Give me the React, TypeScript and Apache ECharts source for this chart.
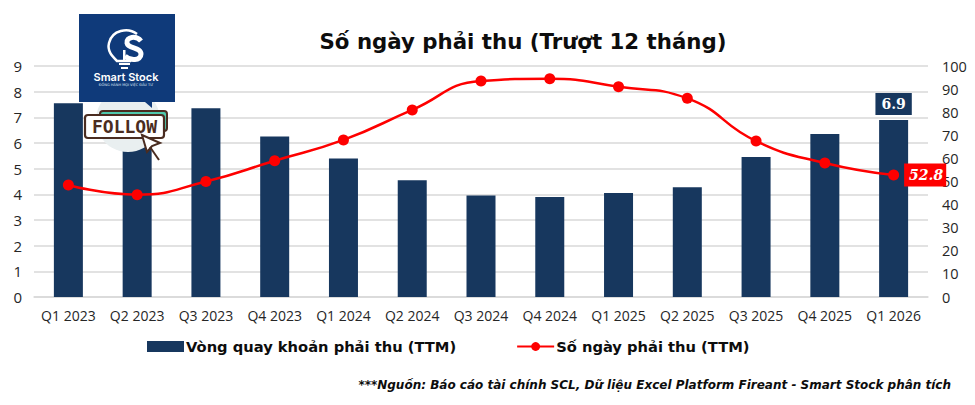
import React, { useEffect, useRef } from "react";
import * as echarts from "echarts";

const categories = ["Q1 2023","Q2 2023","Q3 2023","Q4 2023","Q1 2024","Q2 2024","Q3 2024","Q4 2024","Q1 2025","Q2 2025","Q3 2025","Q4 2025","Q1 2026"];
const turnover = [7.55,6.0,7.35,6.25,5.4,4.55,3.95,3.9,4.05,4.28,5.45,6.35,6.9];
const days = [48.5,44.3,50,59,68,81,93.5,94.5,91,86,67.5,58,52.8];
const titleText = "Số ngày phải thu (Trượt 12 tháng)";
const sourceText = "***Nguồn: Báo cáo tài chính SCL, Dữ liệu Excel Platform Fireant - Smart Stock phân tích";
const NAVY = "#17375e";
const RED = "#fe0000";
const TICK = "#262626";
const TICKFONT = "Open Sans";
const BROWN = "#4a2c20";

echarts.graphic.registerShape("bulbRing", echarts.graphic.extendPath("M 137 34 C 128 27 112 30 109 43 C 107 51 112 56 117 61 L 131 61", {}));
echarts.graphic.registerShape("bulbS", echarts.graphic.extendPath("M 141 41 C 136 35 126 37 127 43 C 128 49 141 47 141 54 C 141 61 130 61 125 56", {}));

export default function App() {
  const ref = useRef<HTMLDivElement>(null);
  useEffect(() => {
    const chart = echarts.init(ref.current!, undefined, { renderer: "svg" });
    chart.setOption({
      animation: false,
      backgroundColor: "#ffffff",
      title: {
        text: titleText, left: 518, top: 26, textAlign: "center",
        textStyle: { fontFamily: "DejaVu Sans", fontSize: 21.3, fontWeight: "bold", color: "#0d0d0d" },
      },
      legend: {
        left: 142, top: 334, itemGap: 60, itemWidth: 37, itemHeight: 11,
        textStyle: { fontFamily: "DejaVu Sans", fontSize: 14.7, fontWeight: "bold", color: "#0d0d0d", padding: [0, 0, 0, -3] },
        data: [
          { name: "Vòng quay khoản phải thu (TTM)", icon: "rect" },
          { name: "Số ngày phải thu (TTM)" },
        ],
      },
      grid: { left: 34, right: 47, top: 66, bottom: 108 },
      xAxis: {
        type: "category", data: categories,
        axisTick: { show: false },
        axisLine: { lineStyle: { color: "#d9d9d9", width: 1.5 } },
        axisLabel: { fontFamily: TICKFONT, fontSize: 14, color: TICK, margin: 11, interval: 0 },
      },
      yAxis: [
        {
          type: "value", min: 0, max: 9, interval: 1,
          axisLine: { show: false }, axisTick: { show: false },
          splitLine: { lineStyle: { color: "#d9d9d9", width: 1.5 } },
          axisLabel: { fontFamily: TICKFONT, fontSize: 15, color: TICK, margin: 12 },
        },
        {
          type: "value", min: 0, max: 100, interval: 10,
          axisLine: { show: false }, axisTick: { show: false },
          splitLine: { show: false },
          axisLabel: { fontFamily: TICKFONT, fontSize: 14.5, color: TICK, margin: 14 },
        },
      ],
      series: [
        {
          name: "Vòng quay khoản phải thu (TTM)", type: "bar", yAxisIndex: 0,
          barWidth: 29, itemStyle: { color: NAVY },
          data: turnover.map((v, i) => i === turnover.length - 1 ? {
            value: v,
            label: {
              show: true, position: "top", distance: 5, formatter: (p: any) => p.value.toFixed(1),
              backgroundColor: NAVY, color: "#fff", fontFamily: "DejaVu Serif", fontWeight: "bold",
              fontSize: 14, padding: [4, 6, 4, 6],
            },
          } : v),
        },
        {
          name: "Số ngày phải thu (TTM)", type: "line", yAxisIndex: 1, smooth: 0.5,
          symbol: "circle", symbolSize: 11,
          itemStyle: { color: RED }, lineStyle: { color: RED, width: 2.5 },
          data: days.map((v, i) => i === days.length - 1 ? {
            value: v,
            label: {
              show: true, position: "right", distance: 5, formatter: (p: any) => p.value.toFixed(1),
              backgroundColor: RED, color: "#fff", fontFamily: "DejaVu Serif", fontWeight: "bold",
              fontStyle: "italic", fontSize: 14, padding: [5, 3, 4, 5],
            },
          } : v),
        },
      ],
      graphic: [
        { type: "text", right: 24, top: 379, z: 10, style: { text: sourceText, fill: "#0d0d0d", font: "italic bold 12px 'DejaVu Sans'" } },
        { type: "circle", z: 20, shape: { cx: 128, cy: 120, r: 32 }, style: { fill: "#e9eff0" } },
        { type: "rect", z: 21, shape: { x: 79, y: 14, width: 96, height: 88 }, style: { fill: "#0f3a7a" } },
        { type: "polygon", z: 21, shape: { points: [[145, 102], [152, 102], [152, 108]] }, style: { fill: "#0f3a7a" } },
        // Bulb logo
        { type: "bulbRing", z: 22, style: { stroke: "#fff", lineWidth: 2.5, fill: null } },
        { type: "bulbS", z: 23, style: { stroke: "#fff", lineWidth: 5, fill: null } },
        { type: "rect", z: 22, shape: { x: 123, y: 50, width: 2.5, height: 11 }, style: { fill: "#fff" } },
        { type: "rect", z: 22, shape: { x: 119, y: 63, width: 11, height: 2 }, style: { fill: "#fff" } },
        { type: "rect", z: 22, shape: { x: 121, y: 67, width: 7, height: 2 }, style: { fill: "#fff" } },
        { type: "text", z: 22, x: 126, y: 77, style: { text: "Smart Stock", fill: "#fff", align: "center", verticalAlign: "middle", font: "600 11px Inter" } },
        { type: "text", z: 22, x: 126, y: 85, style: { text: "ĐỒNG HÀNH MỌI VIỆC ĐẦU TƯ", fill: "#dfe8f5", align: "center", verticalAlign: "middle", font: "3.5px 'DejaVu Sans'" } },
        // Follow button
        { type: "rect", z: 24, shape: { x: 100, y: 111, width: 67, height: 20, r: 3 }, style: { fill: "#4fc9ad", stroke: BROWN, lineWidth: 2 } },
        { type: "rect", z: 25, shape: { x: 85, y: 115, width: 79, height: 23, r: 3 }, style: { fill: "#fff", stroke: BROWN, lineWidth: 2.2 } },
        { type: "text", z: 26, x: 124.5, y: 126.5, style: { text: "FOLLOW", fill: BROWN, align: "center", verticalAlign: "middle", font: "bold 18px 'DejaVu Sans Mono'" } },
        { type: "polygon", z: 27, shape: { points: [[142, 135], [160, 143], [152, 146], [147, 152]] }, style: { fill: "#fff", stroke: BROWN, lineWidth: 2 } },
        { type: "line", z: 27, shape: { x1: 150, y1: 147, x2: 159, y2: 160 }, style: { stroke: BROWN, lineWidth: 2 } },
      ],
    });
    return () => chart.dispose();
  }, []);
  return <div ref={ref} style={{ position: "fixed", left: 0, top: 0, width: 975, height: 405 }} />;
}
